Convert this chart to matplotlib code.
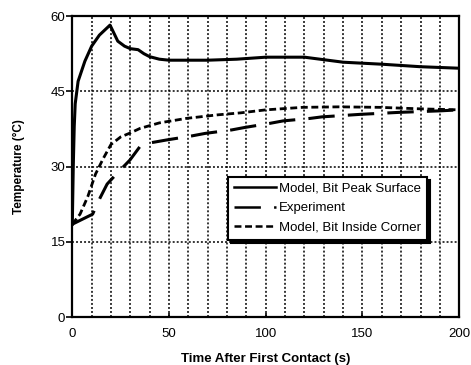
import matplotlib
matplotlib.use("Agg")
import matplotlib.pyplot as plt

plt.rcParams['font.family'] = ['Liberation Sans', 'DejaVu Sans']
plt.rcParams['lines.scale_dashes'] = False

# Model, Bit Peak Surface
peak_t = [0, 0.5, 1, 1.5, 3, 6.5, 10, 14, 19.5, 21, 23.5, 27, 30, 34, 37, 40, 45, 50, 70, 85, 100, 120, 130, 140, 160, 180, 200]
peak_T = [18.5, 30, 38, 42.5, 47, 51, 54, 56.2, 58.2, 57, 55, 54, 53.5, 53.3, 52.5, 51.9, 51.4, 51.2, 51.2, 51.4, 51.8, 51.8, 51.3, 50.8, 50.4, 49.9, 49.6]

# Experiment
exp_t = [0, 10.5, 14.3, 18, 23, 29.8, 35, 40, 48.8, 61.7, 68.6, 82.4, 89.3, 102, 109, 123, 129, 148.7, 169, 190, 200]
exp_T = [18.5, 20.5, 23.7, 26.5, 28.6, 31.3, 34, 34.7, 35.3, 36.1, 36.6, 37.3, 37.8, 38.6, 39.1, 39.6, 39.9, 40.4, 40.8, 41.1, 41.3]

# Model, Bit Inside Corner
ins_t = [0, 4, 8, 12, 16, 20, 25, 30, 35, 45, 59, 75, 87, 100, 119, 138, 159, 180, 200]
ins_T = [18.5, 20.5, 24, 28.5, 31.6, 34.4, 35.9, 36.7, 37.6, 38.7, 39.6, 40.3, 40.7, 41.3, 41.8, 41.9, 41.8, 41.5, 41.3]

xticks = [0, 50, 100, 150, 200]
yticks = [0, 15, 30, 45, 60]

fig = plt.figure(figsize=(4.71, 3.65), dpi=100)
ax = fig.add_axes([0.1535, 0.1315, 0.8215, 0.8245])

# grid
for gx in range(10, 200, 10):
    ax.axvline(gx, color='black', lw=1.1, linestyle=(0, (1.4, 1.5)), zorder=1)
for gy in [15, 30, 45]:
    ax.axhline(gy, color='black', lw=1.1, linestyle=(0, (1.4, 1.5)), zorder=1)

ax.plot(peak_t, peak_T, color='black', lw=2.2, solid_joinstyle='round',
        label='Model, Bit Peak Surface', zorder=3)
ax.plot(exp_t, exp_T, color='black', lw=2.2, linestyle=(0, (19, 9.5)),
        label='Experiment', zorder=3)
ax.plot(ins_t, ins_T, color='black', lw=2.0, linestyle=(0, (5, 2.6)),
        label='Model, Bit Inside Corner', zorder=3)

ax.set_xlim(0, 200)
ax.set_ylim(0, 60)
ax.set_xticks(xticks)
ax.set_yticks(yticks)
ax.tick_params(axis='x', direction='in', length=3, width=1.2, pad=8, labelsize=9.5)
ax.tick_params(axis='y', direction='out', length=4, width=1.2, pad=1, labelsize=9.5)
for s in ax.spines.values():
    s.set_linewidth(1.6)

ax.set_xlabel('Time After First Contact (s)', fontsize=9.5, fontweight='bold', labelpad=9)
ax.set_ylabel('Temperature (\u00b0C)', fontsize=8.5, fontweight='bold', labelpad=18)

leg = ax.legend(loc='upper left', bbox_to_anchor=(0.403, 0.466), borderaxespad=0,
                fontsize=9.5, handlelength=3.2, handletextpad=0.2, labelspacing=0.55,
                frameon=True, fancybox=False, edgecolor='black', borderpad=0.45,
                shadow={'color': 'black', 'alpha': 1.0})
leg.get_frame().set_linewidth(1.5)
for l in leg.get_lines():
    l.set_linewidth(1.8)

fig.savefig('out.png', dpi=100)
